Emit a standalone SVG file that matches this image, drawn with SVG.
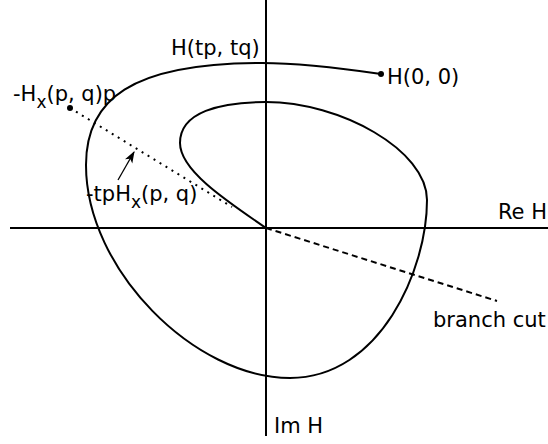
<svg xmlns="http://www.w3.org/2000/svg" width="548" height="444" viewBox="0 0 548 444">
<style>
text{font-family:"DejaVu Sans","Noto Sans",sans-serif;font-size:21px;fill:#000}
.ln{fill:none;stroke:#000;stroke-width:2}
.sub{font-size:17px}
</style>
<defs>
<marker id="ah" viewBox="0 0 10 10" refX="9" refY="5" markerWidth="12" markerHeight="12" markerUnits="userSpaceOnUse" orient="auto">
<path d="M0,1.5 L10,5 L0,8.5 L2.5,5 z" fill="#000"/>
</marker>
</defs>
<rect width="548" height="444" fill="#fff"/>
<g id="axes">
<line class="ln" x1="266" y1="0" x2="266" y2="436"/>
<line class="ln" x1="10" y1="228" x2="548" y2="228"/>
</g>
<g id="curve">
<path class="ln" d="M381,74 C340,68 300,63 262,63 C130,63 86,100 86,165 C86,270 195,378 290,378 C380,378 427,270 427,200 C427,150 340,102 266,102 C220,102 180,112 180,143 C180,170 225,200 266,228"/>
<circle cx="381" cy="74" r="3"/>
</g>
<g id="connectors">
<line class="ln" x1="70" y1="108" x2="232" y2="207" stroke-dasharray="2,5"/>
<line class="ln" x1="266" y1="228" x2="497" y2="301" stroke-dasharray="6,4"/>
<line x1="118" y1="180" x2="134" y2="152" stroke="#000" stroke-width="1.3" marker-end="url(#ah)"/>
<circle cx="70" cy="108" r="3"/>
</g>
<g id="labels">
<text x="171" y="55">H(tp, tq)</text>
<text x="387" y="84">H(0, 0)</text>
<text x="547" y="219" text-anchor="end">Re H</text>
<text x="433" y="327">branch cut</text>
<text x="274" y="433">Im H</text>
<text x="13" y="101">-H<tspan class="sub" dy="7">x</tspan><tspan dy="-7">(p, q)p</tspan></text>
<text x="86" y="201">-tpH<tspan class="sub" dy="7">x</tspan><tspan dy="-7">(p, q)</tspan></text>
</g>
</svg>
